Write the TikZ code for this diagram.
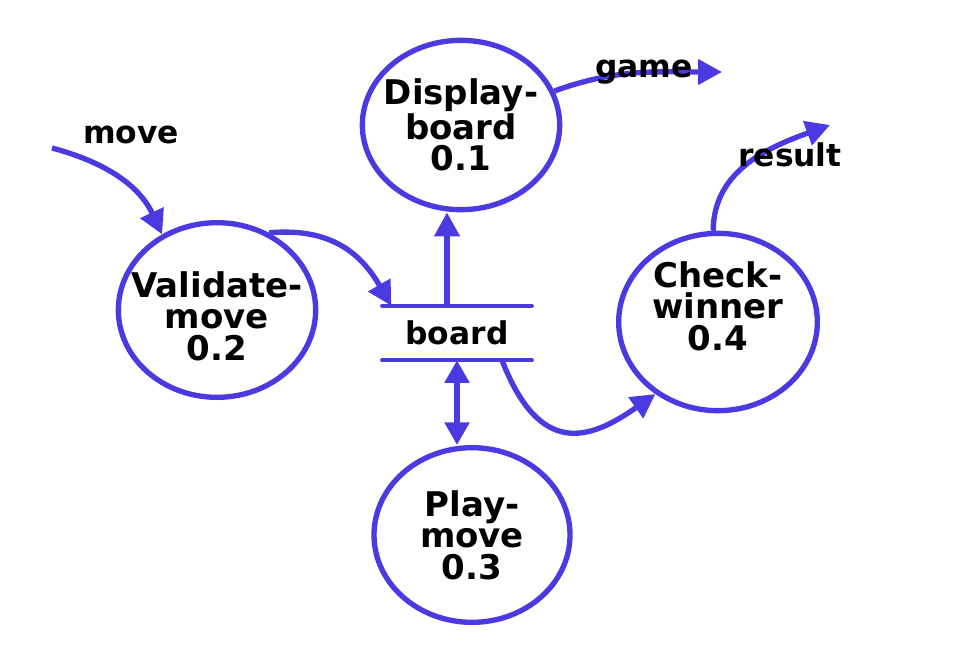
\documentclass[tikz,border=0pt]{standalone}
\usepackage{fontspec}
\setmainfont{DejaVu Sans}
\usetikzlibrary{arrows.meta,shapes.geometric}
\definecolor{dfd}{RGB}{75,58,226}
\begin{document}
\begin{tikzpicture}[x=0.75pt,y=-0.75pt,
  proc/.style={ellipse,draw=dfd,line width=4pt,inner sep=0pt},
  ptext/.style={font=\bfseries\fontsize{25.5}{23.5}\selectfont,align=center,inner sep=0pt},
  lbl/.style={font=\bfseries\fontsize{23.5}{24}\selectfont,inner sep=0pt},
  flow/.style={draw=dfd,line width=4pt,-{Triangle[length=18pt,width=18.5pt]}},
  dflow/.style={draw=dfd,line width=4pt,{Triangle[length=17pt,width=18pt]}-{Triangle[length=17pt,width=18pt]}},
  storeline/.style={draw=dfd,line width=3.3pt,line cap=round}]
\useasboundingbox (0,0) rectangle (955,671);
% processes
\node[proc,minimum width=148pt,minimum height=127pt] (disp) at (461,125) {};
\node[proc,minimum width=148pt,minimum height=131pt] (val) at (217,310) {};
\node[proc,minimum width=149pt,minimum height=133pt] (chk) at (718,322) {};
\node[proc,minimum width=147pt,minimum height=131pt] (play) at (472,535) {};
\node[ptext] (dispT) at (461,125) {Display-\\board\\0.1};
\node[ptext] (valT) at (217,316) {Validate-\\move\\0.2};
\node[ptext] (chkT) at (718,306) {Check-\\winner\\0.4};
\node[ptext] (playT) at (472,535) {Play-\\move\\0.3};
% store
\node[lbl,minimum width=111.75pt,minimum height=40.5pt] (board) at (457,333) {board};
\draw[storeline] (board.north west) -- (board.north east);
\draw[storeline] (board.south west) -- (board.south east);
% flows
\coordinate (min) at (52,148);
\draw[flow] (min) to[out=-15,in=115] (val.126);
\draw[flow] (val.56) to[out=5,in=120,looseness=1.1] ([xshift=6.75pt]board.north west);
\coordinate (up) at ([xshift=-7.5pt]board.north);
\draw[flow] (up) -- (up |- disp.south);
\draw[dflow] (board.south) -- (board.south |- play.north);
\draw[flow] ([xshift=33.75pt]board.south) .. controls (540,458) and (590,440) .. (chk.229);
\coordinate (gameend) at (722,72);
\draw[flow] (disp.20) to[out=20,in=180] (gameend);
\coordinate (resend) at (830,125);
\draw[flow] (chk.93) to[out=90,in=200] (resend);
% labels
\node[lbl] (move) at (131,135) {move};
\node[lbl] (game) at (644,72) {game};
\node[lbl] (result) at (790,155) {result};
\end{tikzpicture}
\end{document}
